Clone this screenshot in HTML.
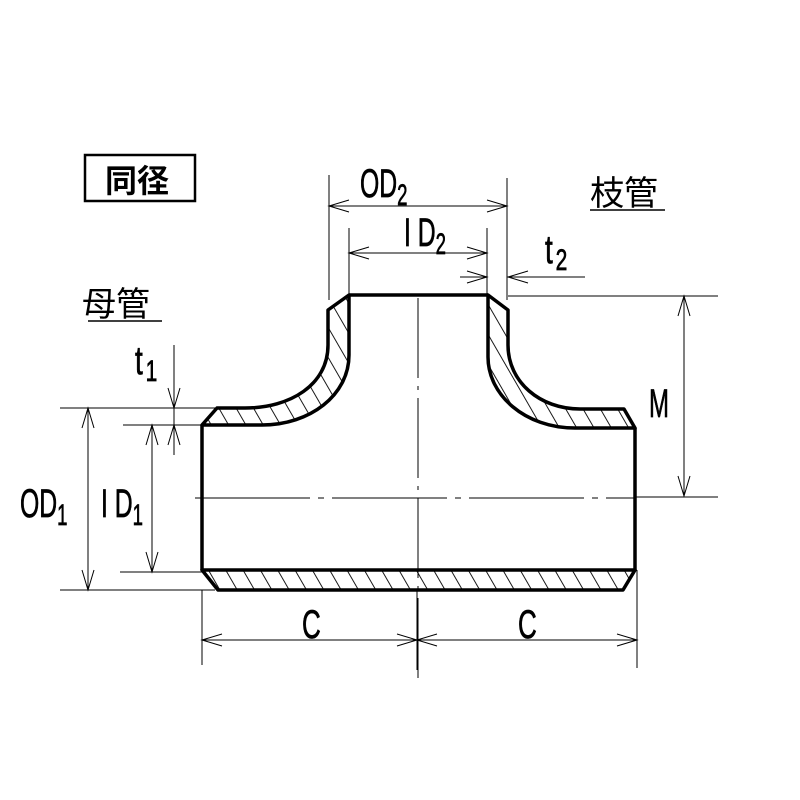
<!DOCTYPE html>
<html><head><meta charset="utf-8"><style>
html,body{margin:0;padding:0;background:#fff}
svg{display:block}
.t{font-family:"Liberation Sans",sans-serif;fill:#000;stroke:#000;stroke-width:0.7}
.j{font-family:"Liberation Sans","Noto Sans CJK JP",sans-serif;fill:#000}
</style></head><body>
<svg width="800" height="800" viewBox="0 0 800 800" xmlns="http://www.w3.org/2000/svg">
<defs>
<pattern id="h" patternUnits="userSpaceOnUse" width="15" height="15" patternTransform="rotate(-30)">
<line x1="0" y1="0" x2="0" y2="15" stroke="#000" stroke-width="1.8"/>
</pattern>
</defs>
<rect width="800" height="800" fill="#fff"/>
<g stroke="#000" stroke-width="1" fill="none">
<line x1="418" y1="298" x2="418" y2="680" stroke-dasharray="80,8,4,8"/>
<line x1="195" y1="498" x2="635" y2="498" stroke-dasharray="115,8,6,8"/>
</g>
<g stroke="#000" stroke-width="3.5" stroke-linejoin="round" fill="url(#h)">
<path d="M349,295 L328,310 L328,345 C328,385 290,408 245,408 L217,408 L202,425 L262,425 C310,425 349,395 349,355 Z"/>
<path d="M488,295 L508,310 L508,345 C508,382 540,409 580,409 L624,409 L635,428 L575,428 C525,428 488,395 488,357 Z"/>
<path d="M202,570 L635,570 L623,590 L218,590 Z"/>
</g>
<g stroke="#000" stroke-width="3.5" fill="none">
<line x1="349" y1="295" x2="488" y2="295"/>
<line x1="202" y1="425" x2="202" y2="570"/>
<line x1="635" y1="428" x2="635" y2="570"/>
</g>
<g stroke="#000" stroke-width="1" fill="none">
<line x1="329" y1="175" x2="329" y2="300"/>
<line x1="507" y1="178" x2="507" y2="300"/>
<line x1="329" y1="206" x2="507" y2="206"/>
<polyline points="349,200 329,206 349,212"/>
<polyline points="487,200 507,206 487,212"/>
<line x1="349" y1="228" x2="349" y2="295"/>
<line x1="487" y1="228" x2="487" y2="295"/>
<line x1="349" y1="253" x2="487" y2="253"/>
<polyline points="369,247 349,253 369,259"/>
<polyline points="467,247 487,253 467,259"/>
<line x1="460" y1="277" x2="487" y2="277"/>
<polyline points="467,271 487,277 467,283"/>
<line x1="508" y1="277" x2="585" y2="277"/>
<polyline points="528,271 508,277 528,283"/>
<line x1="508" y1="296" x2="718" y2="296"/>
<line x1="635" y1="497" x2="718" y2="497"/>
<line x1="684" y1="296" x2="684" y2="496"/>
<polyline points="678,316 684,296 690,316"/>
<polyline points="678,476 684,496 690,476"/>
<line x1="60" y1="408" x2="215" y2="408"/>
<line x1="60" y1="590" x2="215" y2="590"/>
<line x1="88" y1="408" x2="88" y2="590"/>
<polyline points="82,428 88,408 94,428"/>
<polyline points="82,570 88,590 94,570"/>
<line x1="123" y1="425" x2="202" y2="425"/>
<line x1="120" y1="572" x2="202" y2="572"/>
<line x1="152" y1="425" x2="152" y2="572"/>
<polyline points="146,445 152,425 158,445"/>
<polyline points="146,552 152,572 158,552"/>
<line x1="174" y1="345" x2="174" y2="455"/>
<polyline points="168,388 174,408 180,388"/>
<polyline points="168,445 174,425 180,445"/>
<line x1="202" y1="590" x2="202" y2="665"/>
<line x1="417" y1="590" x2="417" y2="670"/>
<line x1="637" y1="570" x2="637" y2="668"/>
<line x1="202" y1="640" x2="637" y2="640"/>
<polyline points="222,634 202,640 222,646"/>
<polyline points="397,634 417,640 397,646"/>
<polyline points="437,634 417,640 437,646"/>
<polyline points="617,634 637,640 617,646"/>
</g>
<g class="t" font-size="40">
<text x="360" y="197" transform="translate(360 0) scale(0.62 1) translate(-360 0)">OD<tspan font-size="30" dy="8">2</tspan></text>
<text x="404" y="246" transform="translate(404 0) scale(0.62 1) translate(-404 0)">I D<tspan font-size="30" dy="8">2</tspan></text>
<text x="545" y="263" transform="translate(545 0) scale(0.7 1) translate(-545 0)">t<tspan font-size="30" dx="4" dy="7">2</tspan></text>
<text x="649" y="417" transform="translate(649 0) scale(0.6 1) translate(-649 0)">M</text>
<text x="20" y="517" transform="translate(20 0) scale(0.62 1) translate(-20 0)">OD<tspan font-size="30" dy="8">1</tspan></text>
<text x="101" y="517" transform="translate(101 0) scale(0.62 1) translate(-101 0)">I D<tspan font-size="30" dy="8">1</tspan></text>
<text x="135" y="374" transform="translate(135 0) scale(0.7 1) translate(-135 0)">t<tspan font-size="30" dx="4" dy="7">1</tspan></text>
<text x="302" y="638" transform="translate(302 0) scale(0.65 1) translate(-302 0)">C</text>
<text x="518" y="638" transform="translate(518 0) scale(0.65 1) translate(-518 0)">C</text>
</g>
<rect x="85" y="155" width="110" height="46" fill="none" stroke="#000" stroke-width="2.5"/>
<text class="j" x="105" y="192" font-size="32" font-weight="bold">同径</text>
<text class="j" x="590" y="205" font-size="34">枝管</text>
<line x1="590" y1="210" x2="665" y2="210" stroke="#000" stroke-width="1.5"/>
<text class="j" x="82" y="316" font-size="34">母管</text>
<line x1="88" y1="321" x2="162" y2="321" stroke="#000" stroke-width="1.5"/>
</svg>
</body></html>
